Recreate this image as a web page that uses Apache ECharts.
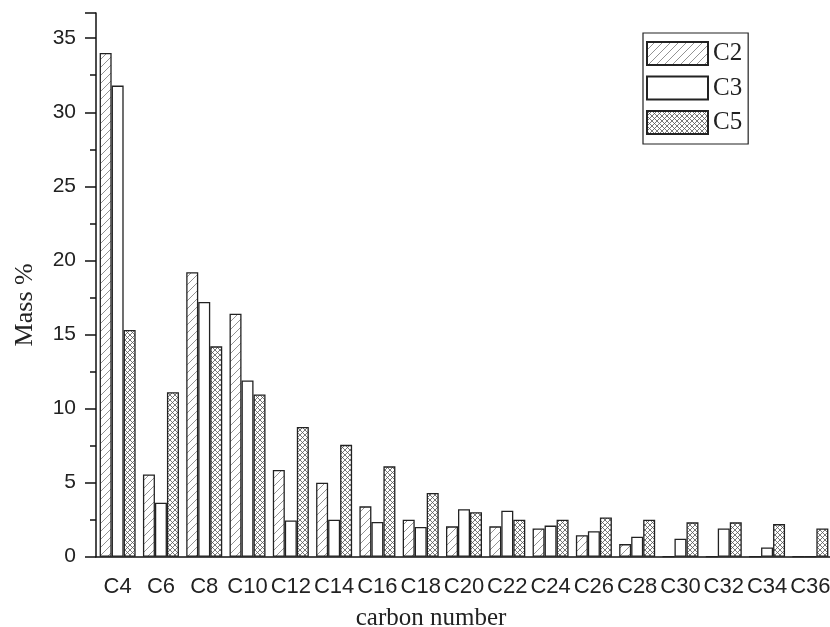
<!DOCTYPE html>
<html>
<head>
<meta charset="utf-8">
<script src="https://cdn.jsdelivr.net/npm/echarts@6/dist/echarts.min.js"></script>
<style>html,body{margin:0;padding:0;background:#fff}#c{width:830px;height:627px}</style>
</head>
<body>
<div id="c"></div>
<script>
const categories = ['C4','C6','C8','C10','C12','C14','C16','C18','C20','C22','C24','C26','C28','C30','C32','C34','C36'];
const seriesNames = ['C2','C3','C5'];
const c2Values = [34.0, 5.55, 19.2, 16.4, 5.85, 5.0, 3.4, 2.5, 2.05, 2.05, 1.9, 1.45, 0.85, 0, 0, 0, 0];
const c3Values = [31.8, 3.65, 17.2, 11.9, 2.45, 2.5, 2.35, 2.0, 3.2, 3.1, 2.1, 1.72, 1.35, 1.22, 1.9, 0.62, 0];
const c5Values = [15.3, 11.1, 14.2, 10.95, 8.75, 7.55, 6.1, 4.3, 3.0, 2.5, 2.5, 2.65, 2.5, 2.32, 2.32, 2.2, 1.9];
const yTicks = [0, 5, 10, 15, 20, 25, 30, 35];

function makeTile(size, draw) {
  const cv = document.createElement('canvas');
  cv.width = size; cv.height = size;
  const g = cv.getContext('2d');
  g.fillStyle = '#fff'; g.fillRect(0, 0, size, size);
  draw(g, size);
  return cv;
}
const hatch = makeTile(8, (g, s) => {
  g.strokeStyle = '#777'; g.lineWidth = 0.8;
  g.beginPath();
  g.moveTo(0, s); g.lineTo(s, 0);
  g.moveTo(-1, 1); g.lineTo(1, -1);
  g.moveTo(s - 1, s + 1); g.lineTo(s + 1, s - 1);
  g.stroke();
});
const cross = makeTile(5, (g, s) => {
  g.strokeStyle = '#555'; g.lineWidth = 0.8;
  g.beginPath();
  g.moveTo(0, s); g.lineTo(s, 0);
  g.moveTo(0, 0); g.lineTo(s, s);
  g.stroke();
});

const fills = [
  { image: hatch, repeat: 'repeat' },
  '#ffffff',
  { image: cross, repeat: 'repeat' }
];
const values = [c2Values, c3Values, c5Values];

const chart = echarts.init(document.getElementById('c'), null, { renderer: 'canvas' });
chart.setOption({
  animation: false,
  backgroundColor: '#fff',
  grid: { left: 96, top: 13, width: 736, bottom: 70.3, containLabel: false, outerBoundsMode: 'none' },
  legend: {
    left: 643, top: 33,
    orient: 'vertical',
    itemWidth: 61, itemHeight: 23, itemGap: 9.5, itemTextGap: 8,
    padding: [8, 6, 9, 3],
    borderColor: '#222', borderWidth: 1.2,
    icon: 'rect',
    textStyle: { fontFamily: 'Liberation Serif', fontSize: 25, color: '#222' },
    data: seriesNames
  },
  xAxis: [{
    type: 'category',
    data: categories,
    boundaryGap: true,
    axisLine: { lineStyle: { color: '#111', width: 1.5 } },
    axisTick: { alignWithLabel: true, length: 10, lineStyle: { color: '#111', width: 1.5 } },
    axisLabel: { interval: 0, fontFamily: 'Liberation Sans', fontSize: 22, color: '#222', margin: 19 },
    name: 'carbon number',
    nameLocation: 'middle',
    nameGap: 49,
    nameTextStyle: { fontFamily: 'Liberation Serif', fontSize: 25, color: '#222', padding: [0, 66, 0, 0] }
  }, {
    type: 'category',
    data: categories,
    position: 'bottom',
    boundaryGap: true,
    axisLine: { show: false },
    axisTick: { alignWithLabel: false, length: 5, lineStyle: { color: '#111', width: 1.5 } },
    axisLabel: { show: false }
  }],
  yAxis: {
    type: 'value',
    min: 0, max: 36.7, interval: 5,
    axisLine: { show: true, lineStyle: { color: '#111', width: 1.5 } },
    axisTick: { show: true, length: 11, lineStyle: { color: '#111', width: 1.5 } },
    minorTick: { show: true, splitNumber: 2, length: 6, lineStyle: { color: '#111', width: 1.5 } },
    splitLine: { show: false },
    axisLabel: {
      fontFamily: 'Liberation Sans', fontSize: 21, color: '#222', margin: 20,
      showMaxLabel: false,
      formatter: v => (yTicks.indexOf(v) >= 0 ? String(v) : '')
    },
    name: 'Mass %',
    nameLocation: 'middle',
    nameGap: 58,
    nameTextStyle: { fontFamily: 'Liberation Serif', fontSize: 26, color: '#222', padding: [0, 40, 0, 0] }
  },
  series: seriesNames.map((n, i) => ({
    name: n,
    type: 'bar',
    xAxisIndex: 0,
    data: values[i],
    barWidth: 12,
    barGap: '0%',
    itemStyle: { color: fills[i], borderColor: '#222', borderWidth: 1.3 }
  }))
});
</script>
</body>
</html>
